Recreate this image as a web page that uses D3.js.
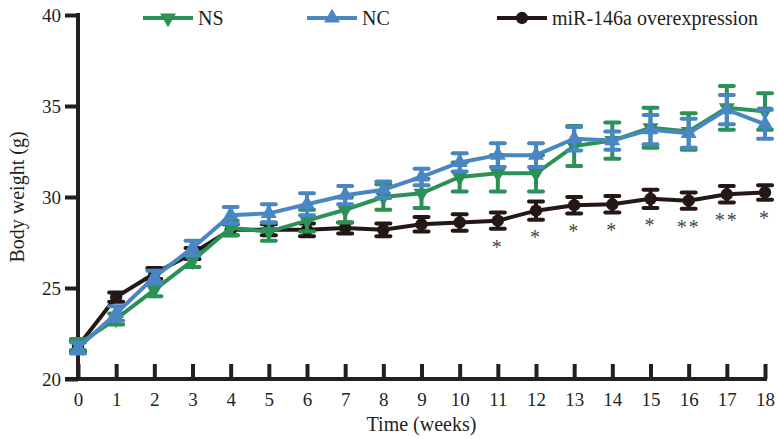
<!DOCTYPE html>
<html>
<head>
<meta charset="utf-8">
<script src="https://cdn.jsdelivr.net/npm/d3@7"></script>
<style>
  body { margin: 0; background: #fff; }
  svg { display: block; font-family: "Liberation Serif", "Times New Roman", serif; }
</style>
</head>
<body>
<svg id="chart"></svg>
<script>
var weeks = [0, 1, 2, 3, 4, 5, 6, 7, 8, 9, 10, 11, 12, 13, 14, 15, 16, 17, 18];
var yTicks = [20, 25, 30, 35, 40];

// means and error (SEM)
var nsMean = [21.9, 23.3, 24.9, 26.5, 28.3, 28.1, 28.7, 29.3, 30.0, 30.2, 31.1, 31.3, 31.3, 32.8, 33.1, 33.8, 33.6, 34.9, 34.7];
var nsErr  = [0.3, 0.3, 0.35, 0.35, 0.4, 0.5, 0.6, 0.7, 0.7, 0.8, 0.8, 1.0, 1.0, 1.1, 1.0, 1.1, 1.0, 1.2, 1.0];
var ncMean = [21.7, 23.6, 25.6, 27.2, 29.0, 29.1, 29.6, 30.1, 30.4, 31.1, 31.9, 32.3, 32.3, 33.2, 33.1, 33.7, 33.5, 34.8, 34.0];
var ncErr  = [0.3, 0.4, 0.35, 0.4, 0.45, 0.5, 0.6, 0.5, 0.45, 0.45, 0.5, 0.65, 0.65, 0.65, 0.5, 0.8, 0.8, 0.8, 0.8];
var miMean = [21.8, 24.5, 25.8, 26.9, 28.2, 28.2, 28.2, 28.3, 28.2, 28.5, 28.6, 28.7, 29.25, 29.55, 29.6, 29.9, 29.8, 30.15, 30.25];
var miErr  = [0.3, 0.25, 0.3, 0.3, 0.3, 0.3, 0.35, 0.3, 0.35, 0.4, 0.45, 0.45, 0.5, 0.45, 0.45, 0.5, 0.45, 0.45, 0.4];
var sigLabels = ['', '', '', '', '', '', '', '', '', '', '', '*', '*', '*', '*', '*', '**', '**', '*'];

var width = 778;
var height = 439;
var axisColor = '#231f20';
var serif = '"Liberation Serif", "Times New Roman", serif';

var svg = d3.select('#chart')
  .attr('width', width)
  .attr('height', height);

var x = d3.scaleLinear().domain([0, 18]).range([78, 765]);
var y = d3.scaleLinear().domain([20, 40]).range([379, 15]);

// Axes
var xAxis = svg.append('g')
  .attr('transform', 'translate(0,' + y(20) + ')')
  .call(d3.axisBottom(x).tickValues(weeks).tickSize(-15).tickPadding(14).tickFormat(d3.format('d')));

var yAxis = svg.append('g')
  .attr('transform', 'translate(' + x(0) + ',0)')
  .call(d3.axisLeft(y).tickValues(yTicks).tickSize(13).tickPadding(4));

[xAxis, yAxis].forEach(function (g) {
  g.attr('font-family', serif);
  g.select('.domain').remove();
  g.selectAll('.tick line').attr('stroke', axisColor).attr('stroke-width', 4);
  g.selectAll('.tick text').attr('fill', axisColor).style('font-size', '19px');
});

// axis lines drawn by hand to get the overhang at the corner
svg.append('line')
  .attr('x1', x(0) - 13).attr('x2', x(18) + 2)
  .attr('y1', y(20)).attr('y2', y(20))
  .attr('stroke', axisColor).attr('stroke-width', 4);
svg.append('line')
  .attr('x1', x(0)).attr('x2', x(0))
  .attr('y1', y(40) - 2).attr('y2', y(20))
  .attr('stroke', axisColor).attr('stroke-width', 4);

svg.append('text')
  .attr('x', (x(0) + x(18)) / 2)
  .attr('y', 431)
  .attr('text-anchor', 'middle')
  .attr('fill', axisColor)
  .style('font-size', '20px')
  .text('Time (weeks)');

svg.append('text')
  .attr('transform', 'translate(24,' + y(30) + ') rotate(-90)')
  .attr('text-anchor', 'middle')
  .attr('fill', axisColor)
  .style('font-size', '20px')
  .text('Body weight (g)');

// Series
var series = [
  {name: 'miR-146a overexpression', mean: miMean, err: miErr, color: '#231815', marker: d3.symbolCircle, size: 120, rotate: 0, lx: 497},
  {name: 'NS', mean: nsMean, err: nsErr, color: '#2b9156', marker: d3.symbolTriangle, size: 110, rotate: 180, lx: 143},
  {name: 'NC', mean: ncMean, err: ncErr, color: '#4a86c4', marker: d3.symbolTriangle, size: 110, rotate: 0, lx: 307}
];

var line = d3.line()
  .x(function (d, i) { return x(weeks[i]); })
  .y(function (d) { return y(d); });

series.forEach(function (s) {
  var g = svg.append('g');

  // error bars
  var bars = g.selectAll('g.err')
    .data(weeks)
    .enter()
    .append('g');
  bars.append('line')
    .attr('x1', function (d) { return x(d); })
    .attr('x2', function (d) { return x(d); })
    .attr('y1', function (d, i) { return y(s.mean[i] + s.err[i]); })
    .attr('y2', function (d, i) { return y(s.mean[i] - s.err[i]); })
    .attr('stroke', s.color).attr('stroke-width', 4);
  [1, -1].forEach(function (sign) {
    bars.append('line')
      .attr('x1', function (d) { return x(d) - 7; })
      .attr('x2', function (d) { return x(d) + 7; })
      .attr('y1', function (d, i) { return y(s.mean[i] + sign * s.err[i]); })
      .attr('y2', function (d, i) { return y(s.mean[i] + sign * s.err[i]); })
      .attr('stroke', s.color).attr('stroke-width', 4).attr('stroke-linecap', 'round');
  });

  g.append('path')
    .datum(s.mean)
    .attr('d', line)
    .attr('fill', 'none')
    .attr('stroke', s.color)
    .attr('stroke-width', 4);

  g.selectAll('path.pt')
    .data(s.mean)
    .enter()
    .append('path')
    .attr('d', d3.symbol().type(s.marker).size(s.size))
    .attr('transform', function (d, i) {
      return 'translate(' + x(weeks[i]) + ',' + y(d) + ') rotate(' + s.rotate + ')';
    })
    .attr('fill', s.color);

  // legend
  var ly = 18;
  svg.append('line')
    .attr('x1', s.lx).attr('x2', s.lx + 50)
    .attr('y1', ly).attr('y2', ly)
    .attr('stroke', s.color).attr('stroke-width', 4);
  svg.append('path')
    .attr('d', d3.symbol().type(s.marker).size(s.size))
    .attr('transform', 'translate(' + (s.lx + 25) + ',' + ly + ') rotate(' + s.rotate + ')')
    .attr('fill', s.color);
  svg.append('text')
    .attr('x', s.lx + 55)
    .attr('y', ly + 7)
    .attr('fill', axisColor)
    .style('font-size', '20px')
    .text(s.name);
});

// significance stars under the miR-146a series
svg.selectAll('text.sig')
  .data(weeks)
  .enter()
  .append('text')
  .attr('x', function (d) { return x(d); })
  .attr('y', function (d, i) { return y(miMean[i]) + 33; })
  .attr('text-anchor', 'middle')
  .attr('fill', '#444')
  .style('font-size', '20px')
  .style('letter-spacing', '2px')
  .text(function (d, i) { return sigLabels[i]; });
</script>
</body>
</html>
